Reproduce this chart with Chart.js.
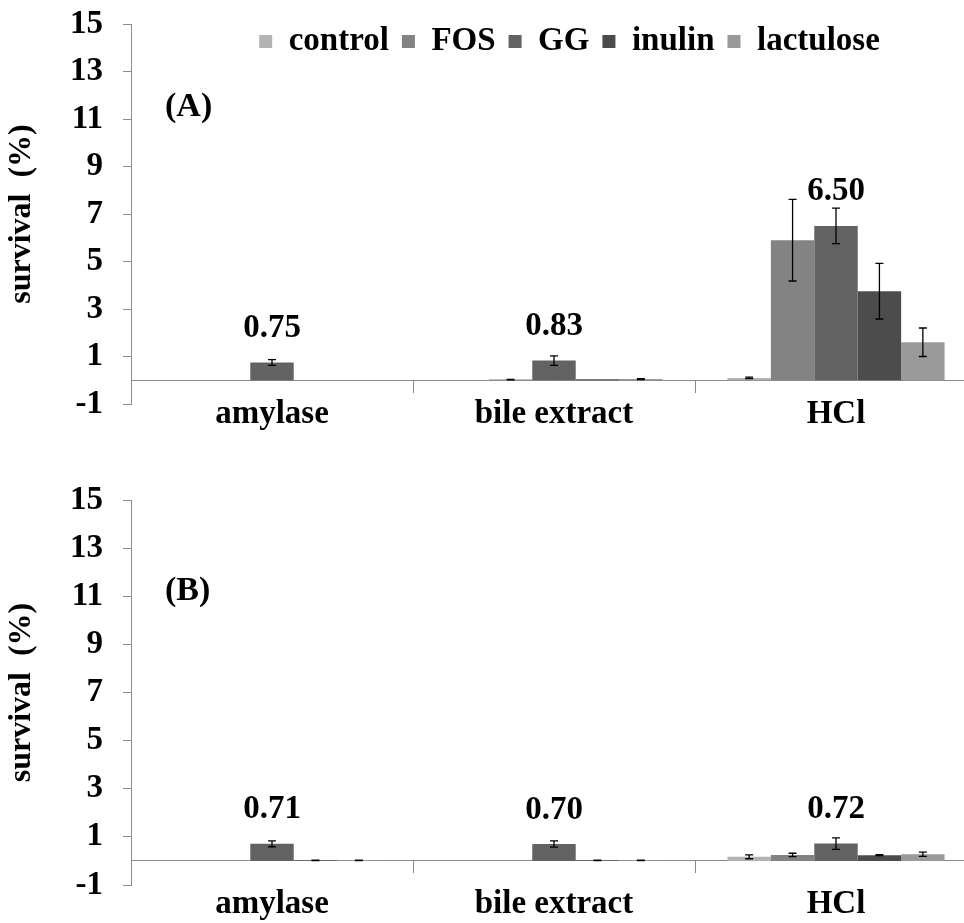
<!DOCTYPE html>
<html>
<head>
<meta charset="utf-8">
<script src="https://cdn.jsdelivr.net/npm/chart.js@4.4.1/dist/chart.umd.min.js"></script>
<style>
  html, body { margin: 0; padding: 0; background: #fff; overflow: hidden; }
  #wrap { position: relative; width: 964px; height: 923px; overflow: hidden; }
  #chartA { position: absolute; left: 0; top: 0; }
  #chartB { position: absolute; left: 0; top: 460px; }
</style>
</head>
<body>
<div id="wrap">
  <canvas id="chartA" width="977" height="460"></canvas>
  <canvas id="chartB" width="977" height="480"></canvas>
</div>
<script>
const categories = ["amylase", "bile extract", "HCl"];
const seriesNames = ["control", "FOS", "GG", "inulin", "lactulose"];
const seriesColors = ["#b3b3b3", "#838383", "#626262", "#4c4c4c", "#9a9a9a"];

// panel (A)
const controlA = [0, 0, 0.1];
const fosA = [0, 0.03, 5.9];
const ggA = [0.75, 0.83, 6.5];
const inulinA = [0, 0.04, 3.75];
const lactuloseA = [0, 0.05, 1.6];

const controlErrA = [0, 0, 0.03];
const fosErrA = [0, 0.01, 1.72];
const ggErrA = [0.12, 0.2, 0.75];
const inulinErrA = [0, 0, 1.17];
const lactuloseErrA = [0, 0.02, 0.6];

// panel (B)
const controlB = [0, 0, 0.17];
const fosB = [0, 0, 0.25];
const ggB = [0.71, 0.70, 0.72];
const inulinB = [0.02, 0.02, 0.24];
const lactuloseB = [0.02, 0.02, 0.28];

const controlErrB = [0, 0, 0.08];
const fosErrB = [0, 0, 0.07];
const ggErrB = [0.12, 0.13, 0.24];
const inulinErrB = [0.01, 0.01, 0.02];
const lactuloseErrB = [0.01, 0.01, 0.09];

const yTicks = [-1, 1, 3, 5, 7, 9, 11, 13, 15];

const serif = "'Liberation Serif', 'Times New Roman', serif";
const axisGray = "#8c8c8c";

const errorBars = {
  id: "errorBars",
  afterDatasetsDraw(chart) {
    const ctx = chart.ctx;
    const y = chart.scales.y;
    ctx.save();
    ctx.strokeStyle = "#000";
    ctx.lineWidth = 1.3;
    chart.data.datasets.forEach((ds, i) => {
      chart.getDatasetMeta(i).data.forEach((bar, j) => {
        const err = ds.errors[j];
        if (!err) return;
        const top = y.getPixelForValue(ds.data[j] + err);
        const bottom = y.getPixelForValue(ds.data[j] - err);
        ctx.beginPath();
        ctx.moveTo(bar.x, top);
        ctx.lineTo(bar.x, bottom);
        ctx.moveTo(bar.x - 4, top);
        ctx.lineTo(bar.x + 4, top);
        ctx.moveTo(bar.x - 4, bottom);
        ctx.lineTo(bar.x + 4, bottom);
        ctx.stroke();
      });
    });
    ctx.restore();
  }
};

const textMarks = {
  id: "textMarks",
  afterDatasetsDraw(chart, args, opts) {
    const ctx = chart.ctx;
    ctx.save();
    ctx.fillStyle = "#000";
    ctx.font = "bold 33px " + serif;
    ctx.textAlign = "center";
    ctx.textBaseline = "middle";
    const meta = chart.getDatasetMeta(opts.dataset);
    opts.labels.forEach((txt, j) => {
      const bar = meta.data[j];
      ctx.fillText(txt, bar.x, bar.y - 34);
    });
    ctx.textAlign = "left";
    ctx.font = "bold 34px " + serif;
    ctx.fillText(opts.panel, chart.chartArea.left + 34, chart.scales.y.getPixelForValue(opts.panelAt));
    ctx.restore();
  },
  afterLayout(chart) {
    // legend sits inside the plot, near its top edge
    const lg = chart.legend;
    if (!lg || !lg.options.display) return;
    lg.top = 12;
    lg.bottom = 80;
    lg.left += 81;
    lg.right += 81;
  }
};

function makeChart(id, values, errors, tag, tagAt, padTop, padBottom, labelGap, showLegend) {
  return new Chart(document.getElementById(id), {
    type: "bar",
    data: {
      labels: categories,
      datasets: seriesNames.map((name, i) => ({
        label: name,
        data: values[i],
        errors: errors[i],
        backgroundColor: seriesColors[i],
        borderWidth: 0,
        categoryPercentage: 0.77,
        barPercentage: 1.0
      }))
    },
    options: {
      responsive: false,
      animation: false,
      devicePixelRatio: 1,
      layout: { padding: { top: padTop, bottom: padBottom, left: 0, right: 0 } },
      plugins: {
        legend: {
          display: showLegend,
          position: "top",
          maxHeight: 1,
          labels: {
            boxWidth: 13,
            boxHeight: 13,
            padding: 13,
            color: "#000",
            font: { family: serif, size: 33, weight: "bold" }
          }
        },
        tooltip: { enabled: false },
        textMarks: {
          dataset: 2,
          labels: values[2].map(v => v.toFixed(2)),
          panel: tag,
          panelAt: tagAt
        }
      },
      scales: {
        x: {
          position: { y: 0 },
          afterFit: s => { s.height = 0; },
          grid: {
            offset: true,
            drawOnChartArea: false,
            tickLength: 12,
            color: axisGray
          },
          border: { color: axisGray, width: 1 },
          ticks: {
            padding: labelGap,
            color: "#000",
            font: { family: serif, size: 33, weight: "bold" }
          }
        },
        y: {
          min: -1,
          max: 15,
          afterFit: s => {
            s.width = 131;
            s.paddingTop = 20;
            s.paddingBottom = 20;
          },
          afterBuildTicks: s => { s.ticks = yTicks.map(v => ({ value: v })); },
          grid: {
            drawOnChartArea: false,
            tickLength: 8,
            color: axisGray
          },
          border: { color: axisGray, width: 1 },
          ticks: {
            padding: 20,
            color: "#000",
            font: { family: serif, size: 33, weight: "bold" }
          },
          title: {
            display: true,
            text: "survival  (%)",
            color: "#000",
            padding: { top: 3, bottom: 0 },
            font: { family: serif, size: 32, weight: "bold" }
          }
        }
      }
    },
    plugins: [errorBars, textMarks]
  });
}

makeChart("chartA",
  [controlA, fosA, ggA, inulinA, lactuloseA],
  [controlErrA, fosErrA, ggErrA, inulinErrA, lactuloseErrA],
  "(A)", 11.5, 23, 56, 2, true);

makeChart("chartB",
  [controlB, fosB, ggB, inulinB, lactuloseB],
  [controlErrB, fosErrB, ggErrB, inulinErrB, lactuloseErrB],
  "(B)", 11.2, 40, 55, 12, false);
</script>
</body>
</html>
